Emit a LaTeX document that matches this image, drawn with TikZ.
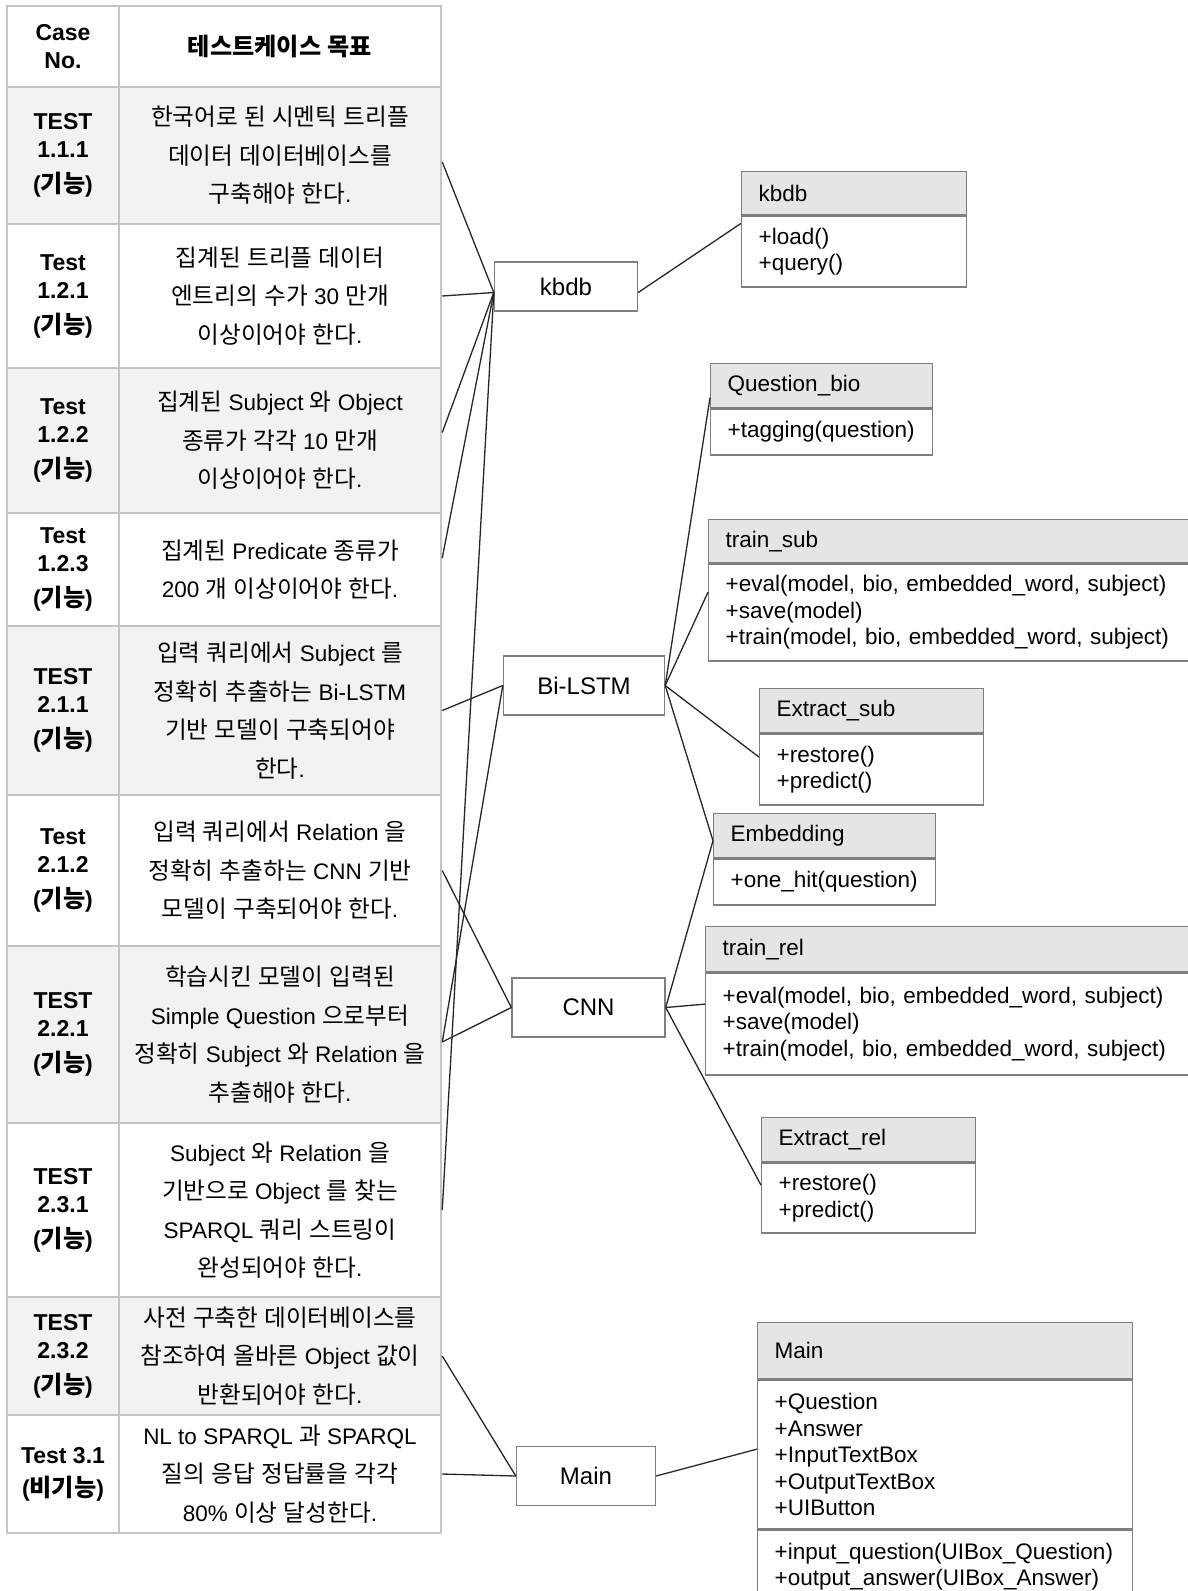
\documentclass[tikz,border=0pt]{standalone}
\usepackage{fontspec}
\setmainfont{Liberation Sans}
\newfontfamily\krfont{Noto Sans CJK KR}[Scale=1.05]
\usepackage{tikz}
\usetikzlibrary{positioning}

% Hangul syllables go to the Korean font
\newXeTeXintercharclass\hangulclass
\newcount\hangulcode
\hangulcode="AC00
\loop\ifnum\hangulcode<"D7A4
  \XeTeXcharclass\hangulcode=\hangulclass
  \advance\hangulcode by 1
\repeat
\XeTeXinterchartoks 0 \hangulclass = {\begingroup\krfont}
\XeTeXinterchartoks 4095 \hangulclass = {\begingroup\krfont}
\XeTeXinterchartoks \hangulclass 0 = {\endgroup}
\XeTeXinterchartoks \hangulclass 4095 = {\endgroup}
\XeTeXinterchartokenstate=1

\definecolor{gridgray}{HTML}{C4C4C4}
\definecolor{rowgray}{HTML}{F2F2F2}
\definecolor{headgray}{HTML}{E5E5E5}
\definecolor{boxgray}{HTML}{7F7F7F}
\tikzstyle{cell}     = [draw=gridgray,line width=2.5pt,inner sep=0pt,align=center]
\tikzstyle{casetext} = [font=\fontsize{23}{28}\selectfont\bfseries]
\tikzstyle{goaltext} = [font=\fontsize{22.5}{38.5}\selectfont]
\tikzstyle{module}   = [draw=boxgray,line width=1.4pt,fill=white,inner sep=0pt,font=\fontsize{24}{28}\selectfont]
\tikzstyle{clshead}  = [draw=boxgray,line width=1.4pt,fill=headgray,inner xsep=17pt,inner ysep=0pt,align=left,font=\fontsize{22.5}{26.5}\selectfont]
\tikzstyle{clsbody}  = [clshead,fill=white]
\tikzstyle{link}     = [line width=1.3pt,black!85]

\begin{document}
\begin{tikzpicture}[x=1pt,y=-1pt]
  \useasboundingbox (0,0) rectangle (1188,1591);
  \clip (0,0) rectangle (1188,1591);

  % Test case table
  \node[cell,casetext,minimum width=112pt,minimum height=81pt] (caseno) at (63,46.5) {Case\\No.};
  \node[cell,casetext,minimum width=322pt,minimum height=81pt] (goalhead) at (280,46.5) {테스트케이스 목표};
  \foreach \i/\ytop/\ybot/\tint/\caseid/\goal in {
    1/87/224/rowgray/{TEST\\1.1.1\\[7pt](기능)}/{한국어로 된 시멘틱 트리플\\데이터 데이터베이스를\\구축해야 한다.},
    2/224/368/white/{Test\\1.2.1\\[7pt](기능)}/{집계된 트리플 데이터\\엔트리의 수가 30 만개\\이상이어야 한다.},
    3/368/513/rowgray/{Test\\1.2.2\\[7pt](기능)}/{집계된 Subject 와 Object\\종류가 각각 10 만개\\이상이어야 한다.},
    4/513/626/white/{Test\\1.2.3\\[7pt](기능)}/{집계된 Predicate 종류가\\200 개 이상이어야 한다.},
    5/626/795/rowgray/{TEST\\2.1.1\\[7pt](기능)}/{입력 쿼리에서 Subject 를\\정확히 추출하는 Bi-LSTM\\기반 모델이 구축되어야\\한다.},
    6/795/946/white/{Test\\2.1.2\\[7pt](기능)}/{입력 쿼리에서 Relation 을\\정확히 추출하는 CNN 기반\\모델이 구축되어야 한다.},
    7/946/1123/rowgray/{TEST\\2.2.1\\[7pt](기능)}/{학습시킨 모델이 입력된\\Simple Question 으로부터\\정확히 Subject 와 Relation 을\\추출해야 한다.},
    8/1123/1297/white/{TEST\\2.3.1\\[7pt](기능)}/{Subject 와 Relation 을\\기반으로 Object 를 찾는\\SPARQL 쿼리 스트링이\\완성되어야 한다.},
    9/1297/1415/rowgray/{TEST\\2.3.2\\[7pt](기능)}/{사전 구축한 데이터베이스를\\참조하여 올바른 Object 값이\\반환되어야 한다.},
    10/1415/1533/white/{Test 3.1\\[5pt](비기능)}/{NL to SPARQL 과 SPARQL\\질의 응답 정답률을 각각\\80\% 이상 달성한다.}}
  {
    \node[cell,casetext,fill=\tint,minimum width=112pt,minimum height={\ybot-\ytop}] (case\i) at (63,{(\ytop+\ybot)/2}) {\caseid};
    \node[cell,goaltext,fill=\tint,minimum width=322pt,minimum height={\ybot-\ytop}] (goal\i) at (280,{(\ytop+\ybot)/2}) {\goal};
  }

  % Modules
  \node[module,minimum width=143pt,minimum height=49pt] (kbdb) at (566,286.5) {kbdb};
  \node[module,minimum width=161pt,minimum height=59pt] (bilstm) at (584,685.5) {Bi-LSTM};
  \node[module,minimum width=153pt,minimum height=59pt] (cnn) at (588.5,1007.5) {CNN};
  \node[module,minimum width=139pt,minimum height=59pt] (main) at (586,1476) {Main};

  % Classes
  \node[clshead,anchor=north west,text width=191pt,minimum height=43pt] (kbdbh) at (741,171) {kbdb};
  \node[clsbody,below=0pt of kbdbh,text width=191pt,minimum height=71pt] (kbdbb) {+load()\\+query()};
  \node[clshead,anchor=north west,text width=188pt,minimum height=44pt] (qbioh) at (710,363) {Question\_bio};
  \node[clsbody,below=0pt of qbioh,text width=188pt,minimum height=46pt] (qbiob) {+tagging(question)};
  \node[clshead,anchor=north west,text width=466pt,minimum height=43pt] (trainsubh) at (708,519) {train\_sub};
  \node[clsbody,below=0pt of trainsubh,text width=466pt,minimum height=97pt] (trainsubb) {+eval(model, bio, embedded\_word, subject)\\+save(model)\\+train(model, bio, embedded\_word, subject)};
  \node[clshead,anchor=north west,text width=190pt,minimum height=44pt] (extsubh) at (759,688) {Extract\_sub};
  \node[clsbody,below=0pt of extsubh,text width=190pt,minimum height=71pt] (extsubb) {+restore()\\+predict()};
  \node[clshead,anchor=north west,text width=188pt,minimum height=44pt] (embh) at (713,813) {Embedding};
  \node[clsbody,below=0pt of embh,text width=188pt,minimum height=46pt] (embb) {+one\_hit(question)};
  \node[clshead,anchor=north west,text width=466pt,minimum height=45pt] (trainrelh) at (705,926) {train\_rel};
  \node[clsbody,below=0pt of trainrelh,text width=466pt,minimum height=102pt] (trainrelb) {+eval(model, bio, embedded\_word, subject)\\+save(model)\\+train(model, bio, embedded\_word, subject)};
  \node[clshead,anchor=north west,text width=180pt,minimum height=44pt] (extrelh) at (761,1117) {Extract\_rel};
  \node[clsbody,below=0pt of extrelh,text width=180pt,minimum height=70pt] (extrelb) {+restore()\\+predict()};
  \node[clshead,anchor=north west,text width=341pt,minimum height=56pt] (mainh) at (757,1322) {Main};
  \node[clsbody,below=0pt of mainh,text width=341pt,minimum height=149pt] (mainab) {+Question\\+Answer\\+InputTextBox\\+OutputTextBox\\+UIButton};
  \node[clsbody,below=0pt of mainab,text width=341pt,minimum height=72pt] (mainmb) {+input\_question(UIBox\_Question)\\+output\_answer(UIBox\_Answer)};

  % Test cases to modules
  \foreach \r/\dy in {1/-6.5,2/0,3/8,4/11.5,8/0}
    \draw[link] ([yshift=\dy pt]goal\r.east) -- ([yshift=-6pt]kbdb.west);
  \foreach \r/\dy in {5/0,7/-7.5}
    \draw[link] ([yshift=\dy pt]goal\r.east) -- (bilstm.west);
  \foreach \r/\dy in {6/0,7/-7.5}
    \draw[link] ([yshift=\dy pt]goal\r.east) -- (cnn.west);
  \foreach \r in {9,10}
    \draw[link] (goal\r.east) -- (main.west);

  % Modules to classes
  \draw[link] ([yshift=-6pt]kbdb.east) -- ([yshift=-8pt]kbdbb.north west);
  \foreach \cls/\dy in {qbioh/-12,trainsubb/20.5,extsubb/12.5,embh/-5}
    \draw[link] (bilstm.east) -- ([yshift=\dy pt]\cls.west);
  \foreach \cls/\dy in {embh/-5,trainrelb/20,extrelb/13}
    \draw[link] (cnn.east) -- ([yshift=\dy pt]\cls.west);
  \draw[link] (main.east) -- ([yshift=5.5pt]mainab.west);
\end{tikzpicture}
\end{document}
